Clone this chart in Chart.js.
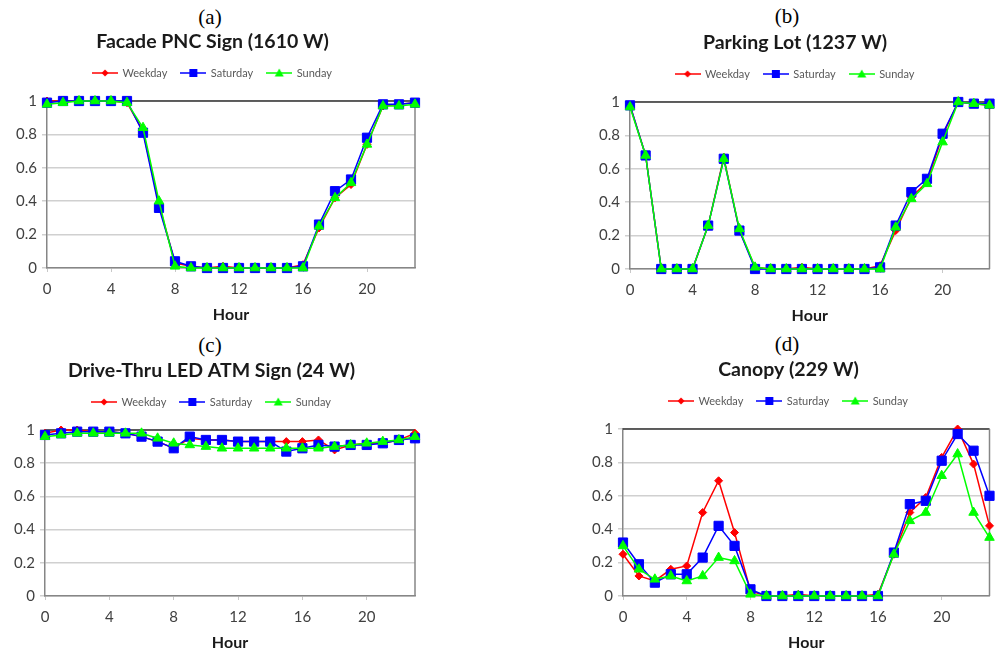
<!DOCTYPE html>
<html>
<head>
<meta charset="utf-8">
<script src="https://cdn.jsdelivr.net/npm/chart.js@4.4.1/dist/chart.umd.min.js"></script>
<style>
  body { margin: 0; background: #fff; width: 997px; height: 653px; position: relative; overflow: hidden; }
  .panel { position: absolute; }
  .letter { position: absolute; font-family: "Liberation Serif", serif; font-size: 21px; color: #000;
            transform: translate(-50%, -50%); white-space: nowrap; }
</style>
</head>
<body>
<div class="letter" style="left:210px;top:17px">(a)</div>
<div class="letter" style="left:787px;top:16px">(b)</div>
<div class="letter" style="left:210px;top:345px">(c)</div>
<div class="letter" style="left:787px;top:344px">(d)</div>

<div class="panel" id="boxA"><canvas id="chartA"></canvas></div>
<div class="panel" id="boxB"><canvas id="chartB"></canvas></div>
<div class="panel" id="boxC"><canvas id="chartC"></canvas></div>
<div class="panel" id="boxD"><canvas id="chartD"></canvas></div>

<script>
// hours of the day (x axis)
const hours = [0, 1, 2, 3, 4, 5, 6, 7, 8, 9, 10, 11, 12, 13, 14, 15, 16, 17, 18, 19, 20, 21, 22, 23];
const seriesNames = ["Weekday", "Saturday", "Sunday"];
const yTicks = [0, 0.2, 0.4, 0.6, 0.8, 1];
const xTickStep = 4;

// (a) Facade PNC Sign
const facadeWeekday  = [1, 1, 1, 1, 1, 0.99, 0.82, 0.38, 0.03, 0.01, 0, 0.01, 0, 0, 0, 0, 0.02, 0.24, 0.42, 0.5, 0.74, 0.97, 0.98, 0.99];
const facadeSaturday = [0.99, 1, 1, 1, 1, 1, 0.81, 0.36, 0.04, 0.01, 0, 0, 0, 0, 0, 0, 0.01, 0.26, 0.46, 0.53, 0.78, 0.98, 0.98, 0.99];
const facadeSunday   = [0.98, 0.99, 1, 1, 1, 0.99, 0.84, 0.4, 0.01, 0, 0, 0, 0, 0, 0, 0, 0, 0.25, 0.42, 0.51, 0.74, 0.97, 0.97, 0.98];

// (b) Parking Lot
const parkingWeekday  = [0.98, 0.68, 0, 0, 0, 0.26, 0.67, 0.23, 0.01, 0, 0, 0.01, 0, 0, 0, 0, 0.02, 0.23, 0.43, 0.52, 0.8, 1, 0.99, 0.98];
const parkingSaturday = [0.98, 0.68, 0, 0, 0, 0.26, 0.66, 0.23, 0, 0, 0, 0, 0, 0, 0, 0, 0.01, 0.26, 0.46, 0.54, 0.81, 1, 0.99, 0.99];
const parkingSunday   = [0.97, 0.68, 0, 0, 0, 0.26, 0.66, 0.24, 0.01, 0, 0, 0, 0, 0, 0, 0, 0, 0.25, 0.42, 0.51, 0.76, 1, 0.99, 0.98];

// (c) Drive-Thru LED ATM Sign
const atmWeekday  = [0.98, 1, 1, 0.99, 0.99, 0.98, 0.96, 0.93, 0.89, 0.95, 0.94, 0.94, 0.93, 0.93, 0.93, 0.93, 0.93, 0.94, 0.88, 0.91, 0.92, 0.92, 0.94, 0.98];
const atmSaturday = [0.97, 0.98, 0.99, 0.99, 0.99, 0.98, 0.96, 0.93, 0.89, 0.96, 0.94, 0.94, 0.93, 0.93, 0.93, 0.87, 0.89, 0.91, 0.9, 0.91, 0.91, 0.92, 0.94, 0.95];
const atmSunday   = [0.96, 0.97, 0.98, 0.98, 0.98, 0.98, 0.98, 0.95, 0.92, 0.91, 0.9, 0.89, 0.89, 0.89, 0.89, 0.89, 0.89, 0.89, 0.9, 0.91, 0.92, 0.93, 0.94, 0.96];

// (d) Canopy
const canopyWeekday  = [0.25, 0.12, 0.09, 0.16, 0.18, 0.5, 0.69, 0.38, 0.03, 0, 0, 0.01, 0, 0, 0, 0, 0.01, 0.25, 0.5, 0.59, 0.83, 1, 0.79, 0.42];
const canopySaturday = [0.32, 0.19, 0.08, 0.13, 0.13, 0.23, 0.42, 0.3, 0.04, 0, 0, 0, 0, 0, 0, 0, 0, 0.26, 0.55, 0.57, 0.81, 0.97, 0.87, 0.6];
const canopySunday   = [0.3, 0.16, 0.1, 0.12, 0.09, 0.12, 0.23, 0.21, 0.01, 0, 0, 0, 0, 0, 0, 0, 0, 0.25, 0.45, 0.5, 0.72, 0.85, 0.5, 0.35];

Chart.defaults.font.family = "Lato, 'Open Sans', sans-serif";

const colors = ["#ff0000", "#0000ff", "#00ff00"];
const markers = ["rectRot", "rect", "triangle"];
const markerRadius = [4, 6.5, 5.5];
const titleSize = 19.5;

// little line + marker pictures for the legend
function legendIcon(color, style) {
    const c = document.createElement("canvas");
    c.width = 26;
    c.height = 12;
    const g = c.getContext("2d");
    g.strokeStyle = color;
    g.fillStyle = color;
    g.lineWidth = 1.5;
    g.beginPath();
    g.moveTo(0, 6);
    g.lineTo(26, 6);
    g.stroke();
    g.beginPath();
    if (style === "rectRot") {
        g.moveTo(13, 2.5); g.lineTo(16.5, 6); g.lineTo(13, 9.5); g.lineTo(9.5, 6);
    } else if (style === "rect") {
        g.rect(9, 2, 8, 8);
    } else {
        g.moveTo(13, 1.5); g.lineTo(17.5, 9.5); g.lineTo(8.5, 9.5);
    }
    g.closePath();
    g.fill();
    return c;
}
const legendIcons = seriesNames.map((n, i) => legendIcon(colors[i], markers[i]));

// top and right edge of the plot box
const frameBorder = {
    id: "frameBorder",
    beforeDatasetsDraw(chart) {
        const { ctx, chartArea: a } = chart;
        ctx.save();
        ctx.lineWidth = 1.5;
        ctx.strokeStyle = "#333333";
        ctx.beginPath();
        ctx.moveTo(a.left, a.top);
        ctx.lineTo(a.right, a.top);
        ctx.stroke();
        ctx.strokeStyle = "#868686";
        ctx.beginPath();
        ctx.moveTo(a.right, a.top);
        ctx.lineTo(a.right, a.bottom);
        ctx.stroke();
        ctx.restore();
    }
};

// leave some room under the legend, like the original
const legendGap = {
    id: "legendGap",
    beforeLayout(chart) {
        const lg = chart.legend;
        if (lg && !lg._gapDone) {
            const fit = lg.fit;
            lg.fit = function () {
                fit.call(this);
                this.height += 12.5;
            };
            lg._gapDone = true;
        }
    }
};

function makePanel(canvasId, boxId, title, series, frame) {
    // frame: wanted plot area in page pixels
    const box = document.getElementById(boxId);
    const height = frame.bottom - frame.top0 + 61;
    box.style.left = frame.left0 + "px";
    box.style.top = frame.top0 + "px";
    const canvas = document.getElementById(canvasId);
    canvas.width = frame.width;
    canvas.height = height;

    const yWidth = 37;
    const titleLine = titleSize * 1.2;
    const padRight = frame.width - (frame.right - frame.left0);
    const padLeft = frame.left - frame.left0 - yWidth;
    const padTop = frame.top - frame.top0 - 59.5 - titleLine / 2;

    const datasets = series.map((values, i) => ({
        label: seriesNames[i],
        data: values,
        borderColor: colors[i],
        backgroundColor: colors[i],
        borderWidth: 1.5,
        pointStyle: markers[i],
        pointRadius: markerRadius[i],
        pointBorderWidth: 1,
        tension: 0,
        clip: false,
        order: 3 - i
    }));

    return new Chart(canvas, {
        type: "line",
        data: { labels: hours, datasets: datasets },
        options: {
            responsive: false,
            animation: false,
            devicePixelRatio: 1,
            layout: { padding: { top: padTop, left: padLeft, right: padRight, bottom: 0 } },
            plugins: {
                title: {
                    display: true,
                    text: title,
                    color: "#1a1a1a",
                    font: { size: titleSize, weight: "bold" },
                    padding: { top: 0, bottom: 12 - titleLine / 2 }
                },
                legend: {
                    display: true,
                    position: "top",
                    labels: {
                        usePointStyle: true,
                        pointStyleWidth: 24,
                        padding: 14,
                        color: "#595959",
                        font: { size: 11 },
                        generateLabels: (chart) => chart.data.datasets.map((ds, i) => ({
                            text: ds.label,
                            fillStyle: ds.backgroundColor,
                            strokeStyle: ds.borderColor,
                            lineWidth: 0,
                            pointStyle: legendIcons[i],
                            fontColor: "#595959",
                            hidden: false,
                            datasetIndex: i
                        }))
                    }
                },
                tooltip: { enabled: false }
            },
            scales: {
                x: {
                    type: "linear",
                    min: hours[0],
                    max: hours[hours.length - 1],
                    ticks: { stepSize: xTickStep, includeBounds: false, color: "#404040", font: { size: 15 }, padding: 8 },
                    grid: { drawOnChartArea: false, drawTicks: true, tickLength: 4, color: "#c8c8c8", lineWidth: 1 },
                    border: { color: "#868686", width: 1.5 },
                    title: {
                        display: true,
                        text: "Hour",
                        color: "#1a1a1a",
                        font: { size: 16, weight: "bold" },
                        padding: { top: 0, bottom: 4.4 }
                    },
                    afterFit: (s) => { s.height = 61; }
                },
                y: {
                    min: yTicks[0],
                    max: yTicks[yTicks.length - 1],
                    afterBuildTicks: (s) => { s.ticks = yTicks.map(v => ({ value: v })); },
                    ticks: { color: "#404040", font: { size: 15 }, padding: 5, callback: (v) => String(v) },
                    grid: { color: "#d0d0d0", lineWidth: 1.5, tickLength: 5 },
                    border: { color: "#868686", width: 1.5 },
                    afterFit: (s) => { s.width = yWidth; }
                }
            }
        },
        plugins: [frameBorder, legendGap]
    });
}

makePanel("chartA", "boxA", "Facade PNC Sign (1610 W)",
    [facadeWeekday, facadeSaturday, facadeSunday],
    { left0: 0, top0: 0, width: 430, left: 47, right: 415, top: 101, bottom: 268 });

makePanel("chartB", "boxB", "Parking Lot (1237 W)",
    [parkingWeekday, parkingSaturday, parkingSunday],
    { left0: 560, top0: 0, width: 437, left: 630, right: 997, top: 102, bottom: 269 });

makePanel("chartC", "boxC", "Drive-Thru LED ATM Sign (24 W)",
    [atmWeekday, atmSaturday, atmSunday],
    { left0: 0, top0: 330, width: 430, left: 45, right: 415, top: 430, bottom: 596 });

makePanel("chartD", "boxD", "Canopy (229 W)",
    [canopyWeekday, canopySaturday, canopySunday],
    { left0: 560, top0: 330, width: 437, left: 623, right: 991, top: 429, bottom: 596 });
</script>
</body>
</html>
